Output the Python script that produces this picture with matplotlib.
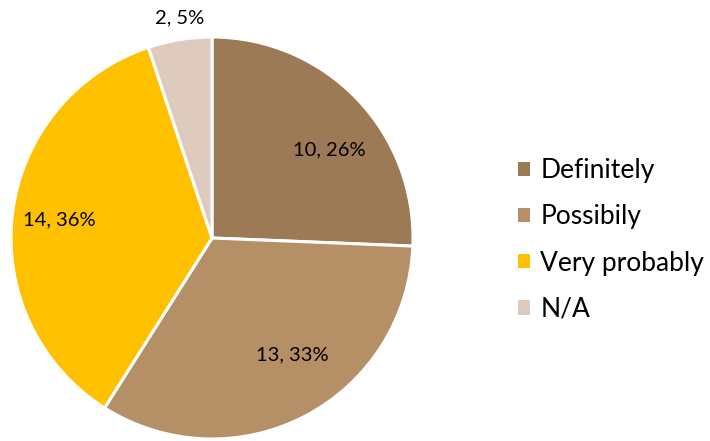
import matplotlib
matplotlib.use("Agg")
import matplotlib.pyplot as plt
import numpy as np

categories = ["Definitely", "Possibily", "Very probably", "N/A"]
values = [10, 13, 14, 2]
percent_labels = ["26%", "33%", "36%", "5%"]
colors = ["#9C7A56", "#B58F66", "#FFC000", "#DFCBBE"]
label_radius = [0.73, 0.705, 0.765, 1.105]
label_angle_shift = [-7.0, 6.7, 0.0, -0.9]

plt.rcParams['font.family'] = ['Lato', 'DejaVu Sans']

W, H = 710, 441
fig = plt.figure(figsize=(W / 100, H / 100), dpi=100)
cx, cy, r = 212, 238, 201
ax = fig.add_axes([(cx - r) / W, (H - cy - r) / H, 2 * r / W, 2 * r / H])

wedges, _ = ax.pie(values, colors=colors, startangle=90, counterclock=False,
                   wedgeprops=dict(edgecolor="white", linewidth=2.2))
ax.set_xlim(-1, 1)
ax.set_ylim(-1, 1)
ax.set_aspect("equal")
ax.axis("off")

for w, v, p, rr, sh in zip(wedges, values, percent_labels, label_radius, label_angle_shift):
    ang = np.deg2rad((w.theta1 + w.theta2) / 2 + sh)
    ax.text(rr * np.cos(ang), rr * np.sin(ang), f"{v}, {p}", ha="center", va="center",
            fontsize=14.5, color="#000000", clip_on=False)

leg = fig.legend(wedges, categories, loc="center left", bbox_to_anchor=(518 / W, 1 - 240 / H),
                 frameon=False, fontsize=19, handlelength=0.47, handleheight=0.47,
                 handletextpad=0.38, labelspacing=0.8, borderaxespad=0, borderpad=0)
for h in leg.legend_handles:
    h.set_edgecolor("none")

fig.savefig("out.png", dpi=100)
